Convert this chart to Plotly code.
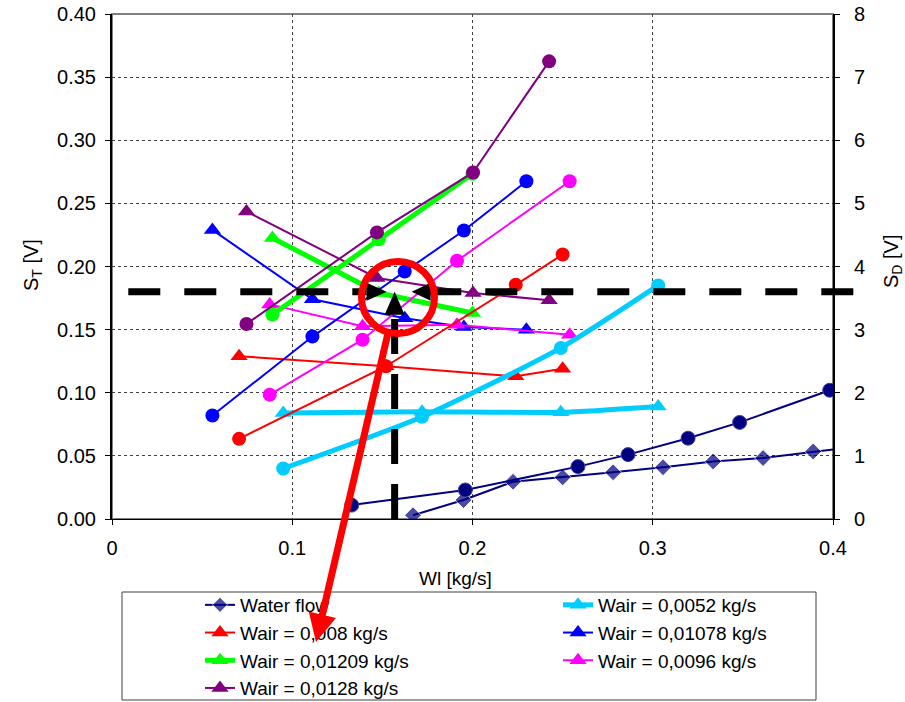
import plotly.graph_objects as go

# ---------------- data ----------------
X_RANGE = [0, 0.4]
ST_RANGE = [0, 0.4]
SD_RANGE = [0, 8]

WATER_X_T = [0.167, 0.195, 0.2225, 0.250, 0.278, 0.3057, 0.3335, 0.3612, 0.389, 0.402]
WATER_ST = [0.003, 0.015, 0.0295, 0.033, 0.037, 0.041, 0.0456, 0.0483, 0.0535, 0.0554]
WATER_X_D = [0.133, 0.196, 0.2585, 0.2863, 0.3196, 0.3482, 0.3982]
WATER_SD = [0.22, 0.46, 0.83, 1.02, 1.28, 1.53, 2.04]

CYAN_X = [0.095, 0.172, 0.249, 0.303]
CYAN_ST = [0.084, 0.085, 0.0845, 0.0892]
CYAN_SD = [0.80, 1.62, 2.71, 3.70]

RED_X = [0.0705, 0.152, 0.224, 0.250]
RED_ST = [0.129, 0.121, 0.113, 0.119]
RED_SD = [1.27, 2.42, 3.71, 4.19]

BLUE_X = [0.0557, 0.1112, 0.1624, 0.1952, 0.2299]
BLUE_ST = [0.229, 0.174, 0.159, 0.152, 0.150]
BLUE_SD = [1.64, 2.89, 3.92, 4.57, 5.35]

GREEN_X = [0.089, 0.148, 0.200]
GREEN_ST = [0.2226, 0.179, 0.1632]
GREEN_SD = [3.24, 4.43, 5.47]

MAGENTA_X = [0.0875, 0.139, 0.1914, 0.2539]
MAGENTA_ST = [0.170, 0.1526, 0.1539, 0.146]
MAGENTA_SD = [1.97, 2.84, 4.09, 5.35]

PURPLE_X = [0.0746, 0.147, 0.2003, 0.2425]
PURPLE_ST = [0.2436, 0.1909, 0.179, 0.1732]
PURPLE_SD = [3.09, 4.54, 5.49, 7.25]

NAMES = ["Water flow", "Wair = 0,0052 kg/s", "Wair = 0,008 kg/s", "Wair = 0,01078 kg/s",
         "Wair = 0,01209 kg/s", "Wair = 0,0096 kg/s", "Wair = 0,0128 kg/s"]
X_TICKS = [0, 0.1, 0.2, 0.3, 0.4]

# operating point marked by the arrows
OP_ST = 0.18
OP_WL = 0.1568

# ---------------- layout geometry ----------------
PAGE_OFF = 0                      # body margin removed by post_script below
W, H = 905 - PAGE_OFF, 702 - PAGE_OFF
PL, PR, PT, PB = 112, 833, 14, 519   # plot area in page pixels
ML = PL - PAGE_OFF
MT = PT - PAGE_OFF
MR = PAGE_OFF + W - PR
MB = PAGE_OFF + H - PB
PW = PR - PL
PH = PB - PT


def pxx(p):  # page pixel x -> paper
    return (p - PL) / PW


def pxy(p):  # page pixel y -> paper
    return (PB - p) / PH


def dxp(v):  # data x -> paper
    return (v - X_RANGE[0]) / (X_RANGE[1] - X_RANGE[0])


def dyp(v):  # data S_T -> paper
    return (v - ST_RANGE[0]) / (ST_RANGE[1] - ST_RANGE[0])


NAVY = "#000080"
CYAN = "#00CCFF"
RED = "#FF0000"
BLUE = "#0000FF"
GREEN = "#00FF00"
MAGENTA = "#FF00FF"
PURPLE = "#800080"

FONT = "Liberation Sans, Arial, sans-serif"

fig = go.Figure()

# water flow
fig.add_trace(go.Scatter(x=WATER_X_D, y=WATER_SD, yaxis="y2", mode="lines+markers",
                         line=dict(color=NAVY, width=2),
                         marker=dict(symbol="circle", size=14, color=NAVY,
                                     line=dict(color="#4040a0", width=1)),
                         showlegend=False))
fig.add_trace(go.Scatter(x=WATER_X_T, y=WATER_ST, name=NAMES[0], mode="lines+markers",
                         line=dict(color=NAVY, width=2),
                         marker=dict(symbol="diamond", size=[13] * (len(WATER_X_T) - 1) + [0],
                                     color=NAVY)))

series = [
    (NAMES[1], CYAN, 5, CYAN_X, CYAN_ST, CYAN_SD, "spline"),
    (NAMES[2], RED, 2, RED_X, RED_ST, RED_SD, "linear"),
    (NAMES[3], BLUE, 2, BLUE_X, BLUE_ST, BLUE_SD, "linear"),
    (NAMES[4], GREEN, 5, GREEN_X, GREEN_ST, GREEN_SD, "linear"),
    (NAMES[5], MAGENTA, 2, MAGENTA_X, MAGENTA_ST, MAGENTA_SD, "linear"),
    (NAMES[6], PURPLE, 2, PURPLE_X, PURPLE_ST, PURPLE_SD, "linear"),
]

for name, col, lw, xs, st, sd, shape in series:
    fig.add_trace(go.Scatter(x=xs, y=st, name=name, mode="lines+markers",
                             line=dict(color=col, width=lw, shape=shape, smoothing=0.6),
                             marker=dict(symbol="triangle-up", size=15, color=col)))
for name, col, lw, xs, st, sd, shape in series:
    fig.add_trace(go.Scatter(x=xs, y=sd, yaxis="y2", mode="lines+markers",
                             line=dict(color=col, width=lw, shape=shape, smoothing=0.6),
                             marker=dict(symbol="circle", size=14, color=col),
                             showlegend=False))

shapes = []
# plot-area frame (grey), drawn under axes
shapes.append(dict(type="rect", xref="paper", yref="paper", x0=0, x1=1, y0=0, y1=1,
                   line=dict(color="#808080", width=2), layer="below"))
# legend frame
shapes.append(dict(type="rect", xref="paper", yref="paper",
                   x0=pxx(122), x1=pxx(816), y0=pxy(592), y1=pxy(700),
                   line=dict(color="#404040", width=1)))

# dashed arrows toward the operating point
yop = dyp(OP_ST)
xop = dxp(OP_WL)
DASH_H = "32px,24px"
DASH_V = "35px,20px"
shapes.append(dict(type="line", xref="paper", yref="paper", x0=pxx(128.3), x1=xop - 28 / PW,
                   y0=yop, y1=yop, line=dict(color="black", width=7, dash=DASH_H)))
shapes.append(dict(type="line", xref="paper", yref="paper", x0=pxx(853.3), x1=xop + 35 / PW,
                   y0=yop, y1=yop, line=dict(color="black", width=7, dash=DASH_H)))
shapes.append(dict(type="line", xref="paper", yref="paper", x0=xop, x1=xop,
                   y0=0, y1=yop - 23 / PH, line=dict(color="black", width=7, dash=DASH_V)))


def tri(points):
    s = "M " + " L ".join(f"{a},{b}" for a, b in points) + " Z"
    return dict(type="path", xref="paper", yref="paper", path=s,
                fillcolor="black", line=dict(color="black", width=0))


# right-pointing head (from the left)
tl = xop - 8 / PW
shapes.append(tri([(tl, yop), (tl - 20 / PW, yop + 9 / PH), (tl - 20 / PW, yop - 9 / PH)]))
# left-pointing head (from the right)
tr = xop + 17 / PW
shapes.append(tri([(tr, yop), (tr + 19 / PW, yop + 9 / PH), (tr + 19 / PW, yop - 9 / PH)]))
# up-pointing head (from the bottom)
shapes.append(tri([(xop, yop), (xop - 10 / PW, yop - 23 / PH), (xop + 10 / PW, yop - 23 / PH)]))

# red circle
shapes.append(dict(type="circle", xref="paper", yref="paper",
                   x0=pxx(361.5), x1=pxx(434.5), y0=pxy(333.5), y1=pxy(261.5),
                   line=dict(color=RED, width=7)))

annotations = [
    dict(xref="paper", yref="paper", x=pxx(316), y=pxy(642), text="", showarrow=True,
         ax=72, ay=-309, arrowcolor=RED, arrowwidth=7, arrowhead=2, arrowsize=0.8),
    dict(xref="paper", yref="paper", x=pxx(455), y=pxy(578), text="Wl [kg/s]",
         xanchor="center", yanchor="middle",
         showarrow=False, font=dict(family=FONT, size=19, color="black")),
    dict(xref="paper", yref="paper", x=pxx(32), y=pxy(265), text="S<sub>T</sub> [V]",
         xanchor="center", yanchor="middle",
         textangle=-90, showarrow=False, font=dict(family=FONT, size=20, color="black")),
    dict(xref="paper", yref="paper", x=pxx(892), y=pxy(262), text="S<sub>D</sub> [V]",
         xanchor="center", yanchor="middle",
         textangle=-90, showarrow=False, font=dict(family=FONT, size=20, color="black")),
]

fig.update_layout(
    width=W, height=H,
    margin=dict(l=ML, r=MR, t=MT, b=MB, autoexpand=False),
    paper_bgcolor="white", plot_bgcolor="white",
    font=dict(family=FONT, size=20, color="black"),
    showlegend=True,
    legend=dict(orientation="h", x=pxx(200), y=pxy(586), xanchor="left", yanchor="top",
                entrywidth=313, bgcolor="rgba(0,0,0,0)", borderwidth=0,
                font=dict(family=FONT, size=19, color="black"), traceorder="normal"),
    xaxis=dict(range=X_RANGE, tickvals=X_TICKS, ticktext=[f"{v:g}" for v in X_TICKS],
               showgrid=True, gridcolor="#404040", griddash="dot", gridwidth=1,
               zeroline=False, showline=True, linecolor="black", linewidth=1,
               ticks="outside", ticklen=5, tickcolor="black", ticklabelstandoff=6),
    yaxis=dict(range=ST_RANGE, dtick=0.05, tickformat=".2f", ticklabeloverflow="allow",
               showgrid=True, gridcolor="#404040", griddash="dot", gridwidth=1,
               zeroline=False, showline=True, linecolor="black", linewidth=2,
               ticks="outside", ticklen=5, tickcolor="black", ticklabelstandoff=5),
    yaxis2=dict(range=SD_RANGE, dtick=1, overlaying="y", side="right", showgrid=False,
                ticklabeloverflow="allow",
                zeroline=False, showline=True, linecolor="black", linewidth=2,
                ticks="outside", ticklen=5, tickcolor="black", ticklabelstandoff=10),
    shapes=shapes,
    annotations=annotations,
)

fig.write_html("out.html", config={"displayModeBar": False},
               post_script="document.body.style.margin='0';document.body.style.overflow='hidden';")
